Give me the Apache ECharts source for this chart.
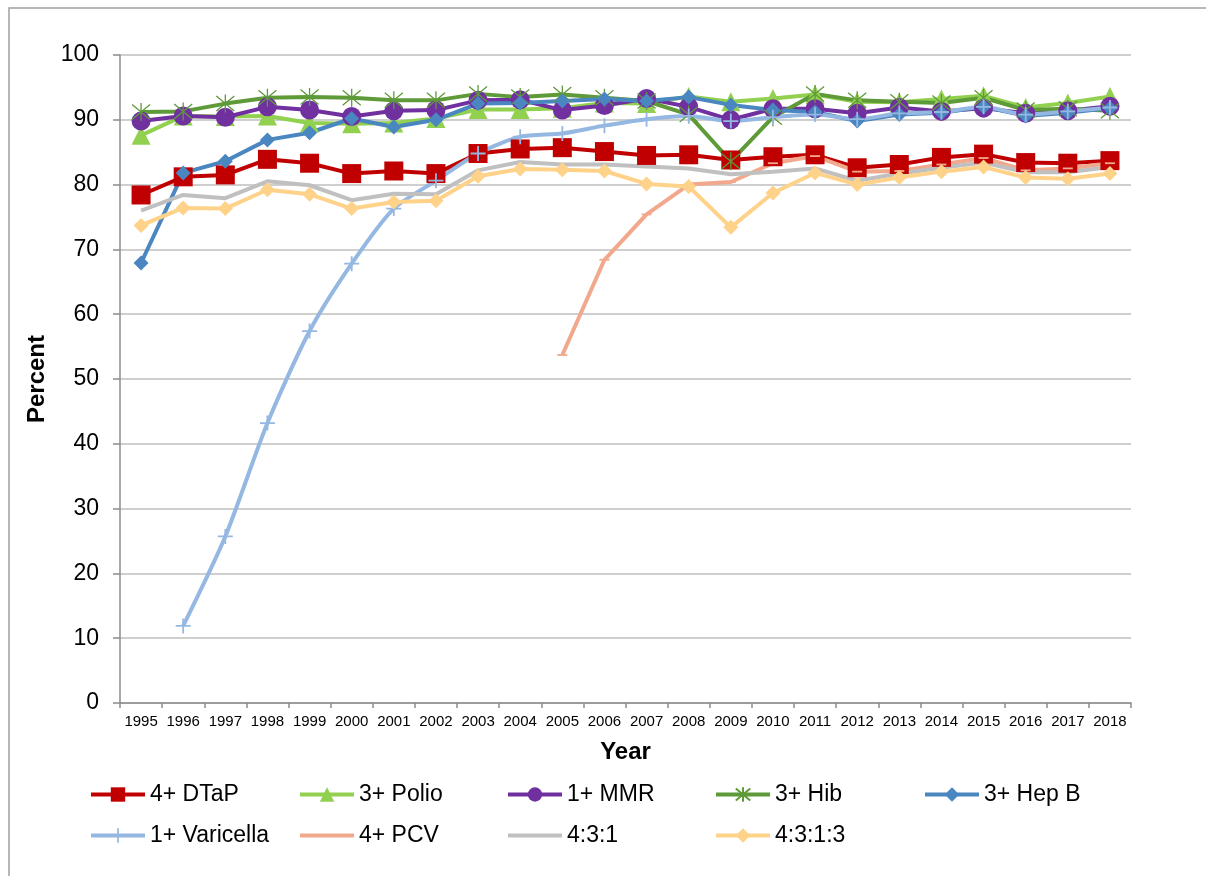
<!DOCTYPE html>
<html>
<head>
<meta charset="utf-8">
<script src="https://cdn.jsdelivr.net/npm/echarts@6/dist/echarts.min.js"></script>
<style>
html,body{margin:0;padding:0;background:#fff;}
#chart{width:1206px;height:876px;}
</style>
</head>
<body>
<div id="chart"></div>
<script>
const years = ['1995','1996','1997','1998','1999','2000','2001','2002','2003','2004','2005','2006','2007','2008','2009','2010','2011','2012','2013','2014','2015','2016','2017','2018'];
const yTicks = [0,10,20,30,40,50,60,70,80,90,100];

const dtap      = [78.4,81.2,81.5,83.9,83.3,81.7,82.1,81.7,84.8,85.5,85.7,85.1,84.5,84.6,83.8,84.3,84.6,82.6,83.1,84.2,84.7,83.4,83.3,83.7];
const polio     = [87.6,90.6,90.5,90.6,89.5,89.4,89.5,90.2,91.6,91.6,91.8,92.6,92.5,93.6,92.8,93.3,93.9,92.8,92.7,93.2,93.7,91.9,92.6,93.6];
const mmr       = [89.8,90.6,90.4,92.0,91.5,90.5,91.4,91.5,93.0,93.1,91.5,92.2,93.3,92.0,90.0,91.7,91.7,91.0,91.9,91.3,91.8,91.0,91.4,92.1];
const hib       = [91.2,91.3,92.5,93.4,93.5,93.4,93.0,93.0,94.0,93.5,93.9,93.4,92.9,90.8,83.6,90.4,94.0,93.0,92.8,92.6,93.4,91.5,91.7,91.4];
const hepb      = [67.9,81.8,83.6,86.9,88.0,90.2,88.9,90.0,92.5,92.6,92.9,93.2,92.9,93.5,92.3,91.5,91.2,89.8,90.8,91.1,92.0,90.6,91.1,91.8];
const varicella = [null,11.9,25.7,43.2,57.4,67.8,76.3,80.6,84.8,87.4,87.9,89.1,90.1,90.6,89.8,90.4,90.8,90.1,91.0,91.2,92.0,90.8,91.3,91.9];
const pcv       = [null,null,null,null,null,null,null,null,null,null,53.7,68.4,75.4,80.0,80.4,83.3,84.4,82.0,82.1,83.1,84.1,82.2,82.5,83.3];
const s431      = [76.0,78.4,77.9,80.5,79.9,77.6,78.6,78.5,82.2,83.5,83.1,83.1,82.8,82.5,81.6,82.0,82.5,80.6,81.7,82.6,83.4,81.9,81.9,82.7];
const s4313     = [73.7,76.4,76.3,79.2,78.5,76.3,77.3,77.5,81.3,82.4,82.3,82.1,80.1,79.7,73.4,78.7,81.8,80.0,81.1,82.0,82.7,81.1,80.9,81.7];

const names = ['4+ DTaP','3+ Polio','1+ MMR','3+ Hib','3+ Hep B','1+ Varicella','4+ PCV','4:3:1','4:3:1:3'];

const FONT = 'Liberation Sans, Arial, sans-serif';
const STAR = 'path://M0,0L10,10M10,0L0,10M5,-1L5,11';
const PLUS = 'path://M4.4,0H5.6V4.4H10V5.6H5.6V10H4.4V5.6H0V4.4H4.4Z';
const DASH = 'path://M0,0L0,0M10,10L10,10M0,4.1L10,4.1L10,5.9L0,5.9Z';

function mk(name, data, color, symbol, size, extra) {
  const s = {
    name: name, type: 'line', data: data,
    symbol: symbol, symbolSize: size,
    connectNulls: false,
    lineStyle: { color: color, width: 4 },
    itemStyle: { color: color },
    emphasis: { disabled: true },
    animation: false
  };
  return Object.assign(s, extra || {});
}

const series = [
  mk(names[0], dtap, '#c00000', 'rect', 19),
  mk(names[1], polio, '#92d050', 'triangle', 19),
  mk(names[2], mmr, '#7030a0', 'circle', 19),
  mk(names[3], hib, '#5e9a38', STAR, 18, { itemStyle: { color: '#5e9a38', borderColor: '#5e9a38', borderWidth: 1.3 } }),
  mk(names[4], hepb, '#4a86c0', 'diamond', 15),
  mk(names[5], varicella, '#95b8e2', PLUS, 15, { smooth: 0.25 }),
  mk(names[6], pcv, '#f2a88c', DASH, 10),
  mk(names[7], s431, '#c0c0c0', 'none', 0),
  mk(names[8], s4313, '#ffd28a', 'diamond', 15)
];

const legendCols = [
  { left: 89,  data: [names[0], names[5]] },
  { left: 298, data: [names[1], names[6]] },
  { left: 506, data: [names[2], { name: names[7], itemStyle: { opacity: 0 } }] },
  { left: 714, data: [names[3], names[8]] },
  { left: 923, data: [names[4]] }
];

const legends = legendCols.map(c => ({
  orient: 'vertical', left: c.left, top: 783, padding: 0,
  itemWidth: 54, itemHeight: 18, itemGap: 18,
  selectedMode: false,
  data: c.data,
  lineStyle: { width: 4 },
  textStyle: { fontFamily: FONT, fontSize: 23, color: '#000' }
}));

const chart = echarts.init(document.getElementById('chart'), null, { renderer: 'canvas' });
chart.setOption({
  backgroundColor: '#fff',
  animation: false,
  textStyle: { fontFamily: FONT },
  graphic: [{
    type: 'rect', silent: true,
    shape: { x: 9, y: 8, width: 1400, height: 1000 },
    style: { fill: 'none', stroke: '#a0a0a0', lineWidth: 1.5 }
  }],
  grid: { left: 120, right: 75, top: 55, bottom: 173, containLabel: false },
  legend: legends,
  xAxis: {
    type: 'category', data: years, boundaryGap: true,
    name: 'Year', nameLocation: 'middle', nameGap: 37,
    nameTextStyle: { fontFamily: FONT, fontSize: 24, fontWeight: 'bold', color: '#000' },
    axisLine: { lineStyle: { color: '#8c8c8c', width: 1.5 } },
    axisTick: { show: true, length: 5, lineStyle: { color: '#8c8c8c', width: 1.5 } },
    axisLabel: { fontFamily: FONT, fontSize: 15, color: '#000', margin: 11, interval: 0 },
    splitLine: { show: false }
  },
  yAxis: {
    type: 'value', min: yTicks[0], max: yTicks[yTicks.length - 1], interval: 10,
    name: 'Percent', nameLocation: 'middle', nameGap: 71, nameRotate: 90,
    nameTextStyle: { fontFamily: FONT, fontSize: 24, fontWeight: 'bold', color: '#000' },
    axisLine: { show: true, lineStyle: { color: '#8c8c8c', width: 1.5 } },
    axisTick: { show: true, length: 7, lineStyle: { color: '#8c8c8c', width: 1.5 } },
    axisLabel: { fontFamily: FONT, fontSize: 23, color: '#000', margin: 21 },
    splitLine: { show: true, lineStyle: { color: '#bfbfbf', width: 1.5 } }
  },
  series: series
});
</script>
</body>
</html>
